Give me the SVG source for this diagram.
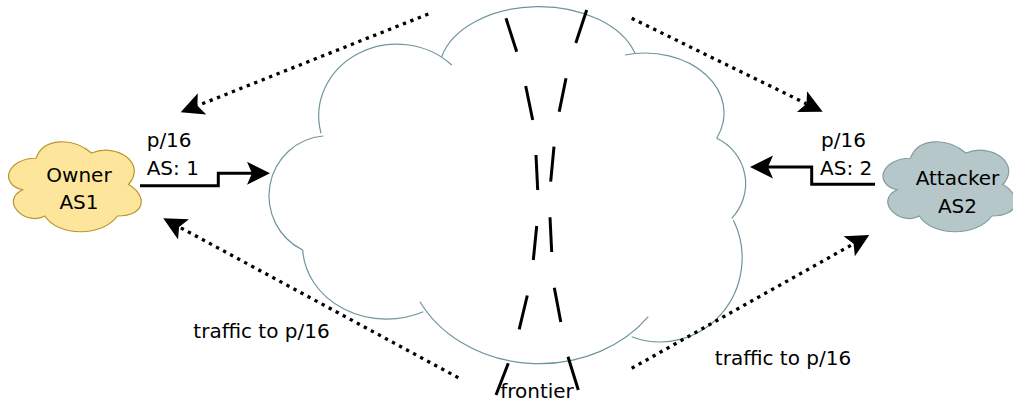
<svg xmlns="http://www.w3.org/2000/svg" width="1013" height="403" viewBox="0 0 1013 403">
<style>
.t{font-family:"DejaVu Sans","Liberation Sans",sans-serif;font-size:20px;fill:#000}
.m{text-anchor:middle}
.cl{fill:none;stroke:#6F959C;stroke-width:1.2}
.dot{fill:none;stroke:#000;stroke-width:3.3;stroke-dasharray:3.3 4.7}
.sol{fill:none;stroke:#000;stroke-width:3}
.fr{fill:none;stroke:#000;stroke-width:3}
</style>
<defs>
<path id="cloudShape" d="M36,158.25 C6.4,158.25 -1,184.5 22.68,189.75 C-1,201.3 25.64,226.5 44.88,216 C58.2,237 102.6,237 117.4,216 C147,216 147,195 128.5,184.5 C147,163.5 117.4,142.5 91.5,153 C73,137.25 43.4,137.25 36,158.25 Z"/>
<marker id="arr" viewBox="-6 -12 25 24" refX="0" refY="0" markerWidth="25" markerHeight="24" markerUnits="userSpaceOnUse" orient="auto">
<path d="M18,0 L-5,-11.5 L0,0 L-5,11.5 Z" fill="#000"/>
</marker>
</defs>
<rect width="1013" height="403" fill="#fff"/>
<g id="internet">
<path class="cl" d="M441.7,56.7 A100,65 0 0 1 635,53.3"/>
<path class="cl" d="M451.7,65 A78,72 0 0 0 321,133.3"/>
<path class="cl" d="M323.3,136 A59,60 0 0 0 302.7,250"/>
<path class="cl" d="M302.7,250 A84,73 0 0 0 423.3,311.7"/>
<path class="cl" d="M420,301.7 A134,113 0 0 0 648.3,316.7"/>
<path class="cl" d="M631.7,336.7 A82,84 0 0 0 733.3,220"/>
<path class="cl" d="M731.7,218.3 A50,50 0 0 0 716.7,138.3"/>
<path class="cl" d="M716.7,138.3 A79,60 0 0 0 625,55"/>
</g>
<g id="owner">
<use href="#cloudShape" fill="#FDE59B" stroke="#B8962E" stroke-width="1.2"/>
<text class="t m" x="79" y="181.7">Owner</text>
<text class="t m" x="79" y="209.3">AS1</text>
</g>
<g id="attacker">
<use href="#cloudShape" transform="translate(874.4,0)" fill="#B5C7C9" stroke="#7F9DA3" stroke-width="1.2"/>
<text class="t m" x="957.5" y="185">Attacker</text>
<text class="t m" x="957.5" y="213.3">AS2</text>
</g>
<g id="frontier">
<path class="fr" d="M506,18.3 L516.7,51.7 M525.7,86 L532.7,120 M536,155 L537.7,190 M536.7,226 L533.3,260 M527.3,295.5 L519.2,329.3 M508.3,363.3 L496,395"/>
<path class="fr" d="M586.7,10 L575.8,43 M566,78.3 L559.2,111.7 M554,146.7 L550.7,181.7 M550,217.3 L551.7,252 M554.3,287.8 L560.8,322 M568,356.7 L578.3,390"/>
<text class="t m" x="537" y="398">frontier</text>
</g>
<g id="connectors">
<path class="sol" d="M140,185.7 H218.3 V173.3 H252" marker-end="url(#arr)"/>
<path class="sol" d="M875,184.3 H811.7 V167 H768" marker-end="url(#arr)"/>
<path class="dot" d="M428.3,14 L197.4,105.7" marker-end="url(#arr)"/>
<path class="dot" d="M631.7,18.3 L806.5,103.8" marker-end="url(#arr)"/>
<path class="dot" d="M458.3,377.7 L179.1,226.9" marker-end="url(#arr)"/>
<path class="dot" d="M631.7,368.3 L853.6,243.8" marker-end="url(#arr)"/>
<text class="t" x="146.7" y="146.7">p/16</text>
<text class="t" x="146.7" y="175">AS: 1</text>
<text class="t" x="821" y="146.7">p/16</text>
<text class="t" x="820" y="175">AS: 2</text>
<text class="t m" x="261.5" y="338.3">traffic to p/16</text>
<text class="t m" x="783" y="365">traffic to p/16</text>
</g>
</svg>
